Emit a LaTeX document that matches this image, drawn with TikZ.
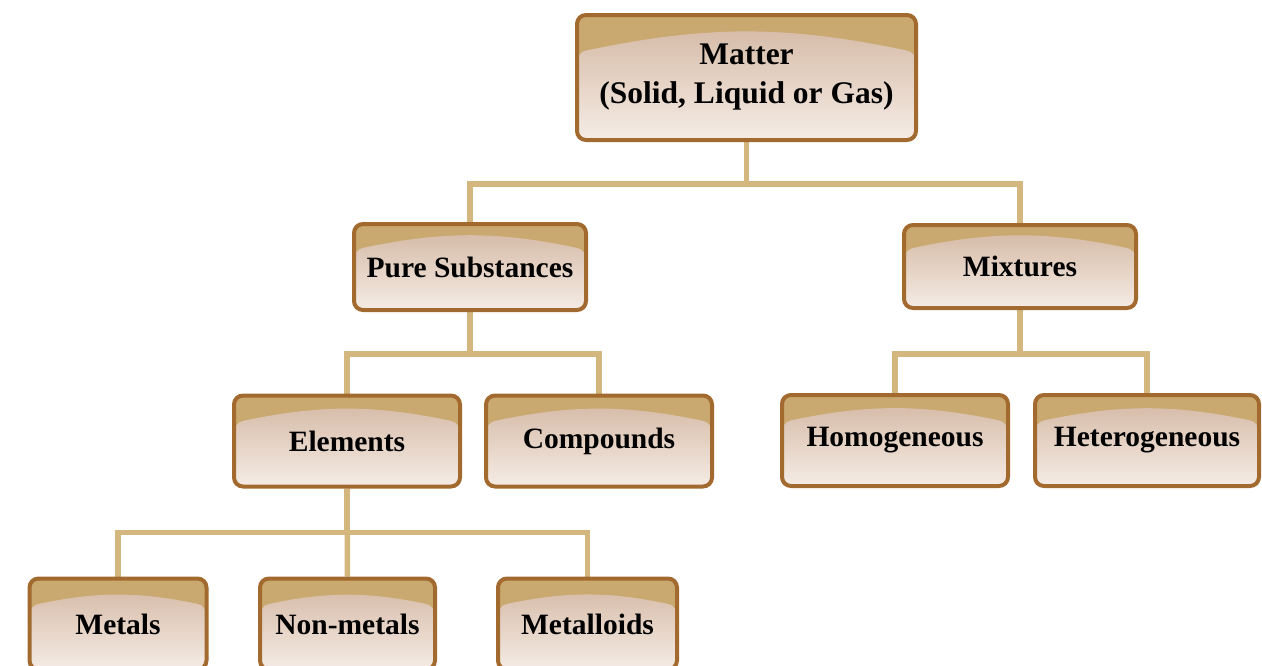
\documentclass[tikz,border=0pt]{standalone}
\usepackage{fontspec}
\setmainfont{Liberation Serif}
\usetikzlibrary{calc,backgrounds}
\definecolor{boxedge}{HTML}{A26A2E}
\definecolor{boxtop}{HTML}{C9A96F}
\definecolor{boxmid}{HTML}{D3B6A1}
\definecolor{boxlow}{HTML}{F5ECE5}
\definecolor{linkcol}{HTML}{D4B67F}
\tikzset{
  box/.style={draw=boxedge, line width=4pt, rounded corners=9pt, fill=boxtop,
    align=center, inner sep=0pt, minimum height=91pt,
    font=\bfseries\fontsize{29.5}{36}\selectfont,
    path picture={\shade[top color=boxmid, bottom color=boxlow]
      ($(path picture bounding box.north west)!0.3!(path picture bounding box.south west)$)
      to[bend left=12] ($(path picture bounding box.north east)!0.3!(path picture bounding box.south east)$)
      -- (path picture bounding box.south east) -- (path picture bounding box.south west) -- cycle;}},
  link/.style={draw=linkcol, line width=5.5pt}
}
\begin{document}
\begin{tikzpicture}[x=1pt, y=-1pt]
\useasboundingbox (0,0) rectangle (1262,665);
\node[box, minimum width=339pt, minimum height=125pt, font=\bfseries\fontsize{31.5}{39}\selectfont] (matter) at (746.5,77.5) {Matter\\(Solid, Liquid or Gas)};
\node[box, minimum width=232pt, minimum height=86pt] (pure) at (470,267) {Pure Substances};
\node[box, minimum width=232pt, minimum height=83pt] (mix) at (1020,266.5) {Mixtures};
\node[box, minimum width=226pt] (elem) at (347,441) {Elements};
\node[box, minimum width=226pt] (comp) at (599,441) {Compounds};
\node[box, minimum width=226pt] (homo) at (895,440.5) {Homogeneous};
\node[box, minimum width=224pt] (hetero) at (1147,440.5) {Heterogeneous};
\node[box, minimum width=177pt] (metals) at (118,624) {Metals};
\node[box, minimum width=175pt] (nonmet) at (347.5,624) {Non-metals};
\node[box, minimum width=179pt] (metalloid) at (587.5,624) {Metalloids};
% connectors behind the boxes
\begin{scope}[on background layer]
\draw[link] (matter.south) -- ++(0,42) -| (pure.north);
\draw[link] (matter.south) -- ++(0,42) -| (mix.north);
\draw[link] (pure.south) -- ++(0,42) -| (elem.north);
\draw[link] (pure.south) -- ++(0,42) -| (comp.north);
\draw[link] (mix.south) -- ++(0,44) -| (homo.north);
\draw[link] (mix.south) -- ++(0,44) -| (hetero.north);
\draw[link] (elem.south) -- ++(0,44) -| (metals.north);
\draw[link] (elem.south) -- (nonmet.north);
\draw[link] (elem.south) -- ++(0,44) -| (metalloid.north);
\end{scope}
\end{tikzpicture}
\end{document}
